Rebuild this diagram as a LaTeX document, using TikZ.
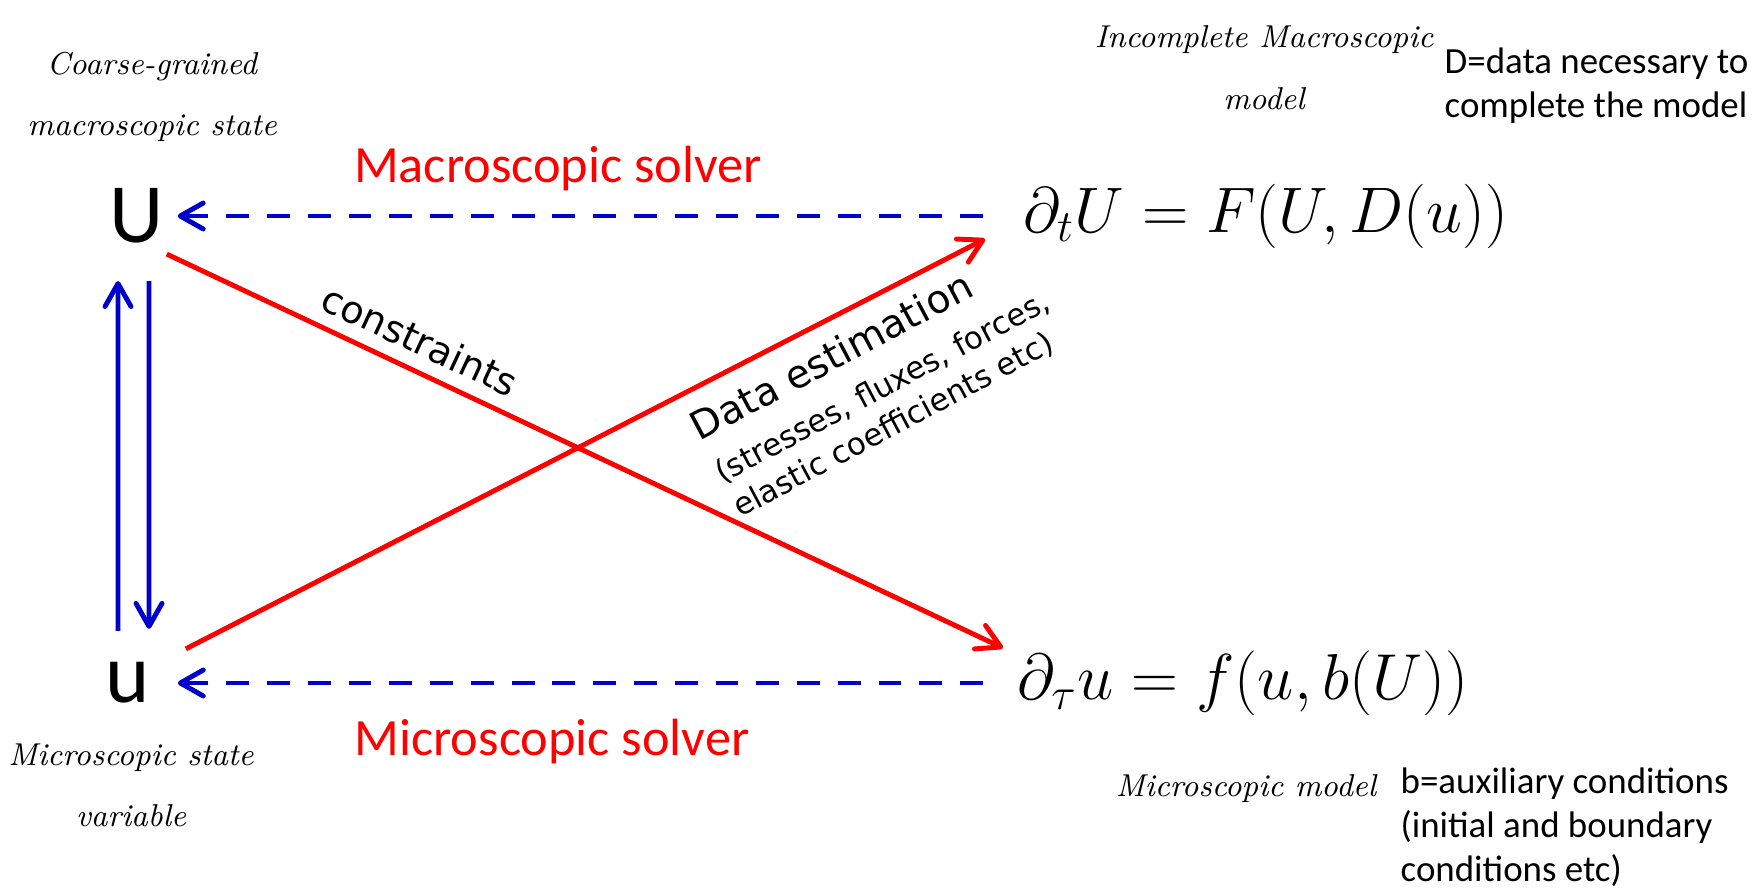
\documentclass[tikz,border=0pt]{standalone}
\usepackage{fontspec}
\newfontfamily\calibri{Carlito}
\newfontfamily\verd{DejaVu Sans}
\usetikzlibrary{arrows.meta}
\definecolor{solverblue}{RGB}{0,0,204}
\definecolor{linkred}{RGB}{255,0,0}

\begin{document}
\begin{tikzpicture}[>={Straight Barb[length=2.3mm,width=2.6mm,round]},
    state/.style={font=\calibri\fontsize{24}{24}\selectfont, inner sep=0pt},
    model/.style={anchor=west, inner sep=0pt, font=\fontsize{17.28}{20}\selectfont, transform shape},
    solver/.style={->, solverblue, line width=1.4pt, dash pattern=on 6.5pt off 5.1pt},
    scalearrow/.style={->, solverblue, line width=1.4pt},
    link/.style={->, linkred, line width=1.4pt},
    solverlabel/.style={font=\calibri\fontsize{14.9}{16}\selectfont, text=linkred, anchor=base, inner sep=0pt},
    hand/.style={font=\itshape\fontsize{9}{17.5}\selectfont, align=center, inner sep=0pt},
    note/.style={font=\calibri\fontsize{10.5}{12.5}\selectfont, align=left, inner sep=0pt, anchor=north west}]
    \useasboundingbox (0,0) rectangle (17.62,8.88);
    % coarse and fine state variables
    \node[state] (U) at (1.37,6.72) {U};
    \node[state] (u) at (1.28,2.05) {u};
    % the two models
    \node[model, scale=1.06] (macroeq) at (10.23,6.72) {$\partial_t U = F(U,D(u))$};
    \node[model, scale=1.07] (microeq) at (10.17,2.05) {$\partial_\tau u = f(u,b(U))$};
    % solvers
    \draw[solver] ([xshift=-4mm]macroeq.west) -- ([xshift=1.3mm]U.east);
    \draw[solver] ([xshift=-3.4mm]microeq.west) -- ([xshift=2.7mm]u.east);
    \node[solverlabel] (macrosolver) at (5.58,7.06) {Macroscopic solver};
    \node[solverlabel] (microsolver) at (5.52,1.33) {Microscopic solver};
    % lifting and restriction
    \draw[scalearrow] ([shift={(-0.10,0.31)}]u.north) -- ([shift={(-0.19,-0.37)}]U.south);
    \draw[scalearrow] ([shift={(0.12,-0.37)}]U.south) -- ([shift={(0.21,0.33)}]u.north);
    % crossing red links
    \draw[link] ([shift={(0.02,-0.10)}]U.south east) -- ([shift={(-0.14,0.35)}]microeq.west);
    \draw[link] ([shift={(0.35,0.13)}]u.north east) -- ([shift={(-0.38,-0.23)}]macroeq.west);
    \node[font=\verd\fontsize{10.8}{13}\selectfont, rotate=-25] (constr) at (4.20,5.48) {constraints};
    \node[font=\verd\fontsize{8.8}{11}\selectfont, rotate=28, align=left, inner sep=0pt] (dataest) at (8.79,5.07)
        {{\fontsize{11.1}{13}\selectfont Data estimation}\\[2.5pt]
         (stresses, fluxes, forces,\\elastic coefficients etc)};
    % handwritten captions
    \node[hand, anchor=north] (coarse) at (1.52,8.37) {Coarse-grained\\macroscopic state};
    \node[hand, anchor=north] (incompl) at (12.64,8.63) {Incomplete Macroscopic\\model};
    \node[hand, anchor=north] (microstate) at (1.31,1.45) {Microscopic state\\variable};
    \node[hand, anchor=base] (micromodel) at (12.46,0.92) {Microscopic model};
    % side notes
    \node[note] (dnote) at (14.44,8.41) {D=data necessary to\\complete the model};
    \node[note] (bnote) at (14.00,1.21) {b=auxiliary conditions\\(initial and boundary\\conditions etc)};
\end{tikzpicture}
\end{document}
